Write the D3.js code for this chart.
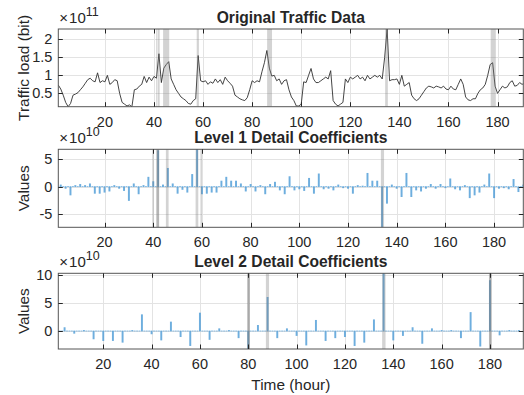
<!DOCTYPE html>
<html><head><meta charset="utf-8">
<script src="https://cdn.jsdelivr.net/npm/d3@7"></script>
<style>body{margin:0;background:#fff}svg{display:block}text{font-family:"Liberation Sans",Arial,sans-serif;fill:#262626}</style>
</head><body><svg id="c" width="524" height="395"></svg>
<script>
// ---------- data ----------
const hours = d3.range(1, 193);
// traffic load, units of 1e11 bit
const traffic = [
0.73,0.62,0.45,0.25,0.13,0.22,0.45,0.48,0.52,0.6,
0.68,0.78,0.88,0.92,0.85,0.82,1.07,0.8,0.85,0.82,
1.0,0.75,0.8,0.88,0.85,0.5,0.25,0.2,0.15,0.18,
0.13,0.6,0.62,0.7,0.75,0.97,0.8,0.95,0.85,0.97,
0.92,1.6,0.8,1.2,1.3,1.38,0.9,0.75,0.6,0.5,
0.4,0.35,0.3,0.22,0.2,0.3,0.35,1.55,0.85,0.82,
0.85,0.75,0.82,0.78,0.9,0.8,0.88,0.75,0.95,0.85,
0.78,0.7,0.45,0.4,0.35,0.32,0.3,0.38,0.6,0.85,
0.8,0.85,0.82,1.1,1.35,1.69,1.2,0.98,1.0,0.85,
0.9,0.75,0.85,0.88,0.6,0.4,0.3,0.15,0.15,0.2,
0.82,0.8,1.0,1.19,0.9,0.8,0.8,0.85,0.9,0.95,
0.9,1.13,0.3,0.2,0.15,0.2,0.25,0.9,0.8,0.95,
0.9,0.95,1.0,0.9,0.95,0.85,1.0,0.9,0.95,1.0,
0.95,1.0,0.9,1.5,2.286,0.85,0.88,0.88,0.9,0.75,
1.0,0.7,0.75,0.8,0.45,0.35,0.3,0.35,0.45,0.55,
0.65,0.7,0.68,0.65,0.7,0.68,0.65,0.7,0.62,0.6,
0.7,0.62,0.6,0.75,0.9,0.75,0.4,0.32,0.3,0.35,
0.35,0.5,0.6,0.65,0.75,1.0,1.3,1.35,0.7,0.5,
0.6,0.7,0.65,0.68,0.8,0.85,0.7,0.72,0.8,0.75,
0.78,0.8];
// level-1 detail coefficients (1e10), at hours 2,4,...,192
const level1 = [
0.3,-0.3,-1.5,0.2,0.4,0.2,0.5,-1.2,-1.2,-1.0,
-0.8,0.2,-0.3,-0.7,-2.5,0.5,-1.3,0.2,1.7,0.9,
6.5,0.3,3.3,0.5,-1.2,-0.5,-1.0,2.2,6.75,-1.3,
-1.2,-1.0,-1.0,1.0,1.7,1.0,1.0,0.5,-0.8,0.4,
-0.8,0.2,-1.3,0.4,0.8,-0.6,-1.3,1.8,-0.6,-0.4,
-0.7,1.5,-1.2,2.3,-0.4,-0.3,-0.6,0.3,-0.2,-0.3,
-1.2,0.2,0.1,2.4,1.0,1.0,-7.35,-3.0,0.3,-0.3,
-1.8,2.4,-1.8,-0.6,-0.8,-0.3,0.4,-0.3,0.4,-0.2,
1.4,-0.4,-0.6,0.2,-2.0,-1.5,-1.0,0.3,2.3,-2.0,
-0.3,-0.2,-0.4,1.3,-0.9,0.3];
// level-2 detail coefficients (1e10), at hours 4,8,...,192
const level2 = [
0.6,-0.4,0.1,-1.4,-1.7,-1.7,-2.0,0.1,2.9,-0.5,
-1.6,1.6,-1.0,-2.6,3.2,-1.5,0.4,0.1,-1.2,-3.21,
1.0,6.0,-1.2,0.4,-0.8,-2.5,1.9,-1.7,-1.2,-1.0,
-2.6,-2.0,2.0,10.3,-1.6,-0.8,0.6,-2.2,0.4,0.1,
0.1,-1.2,3.3,-2.7,9.0,-0.7,0.1,0.1];
const xTicks = [20,40,60,80,100,120,140,160,180];
const yTicks1 = [0.5,1,1.5,2];
const yTicks2 = [-5,0,5];
const yTicks3 = [0,5,10];
// highlighted (anomaly) hour ranges per panel
const bands1 = [[40.9,41.4],[41.6,42.3],[43.7,46.2],[57.4,58.3],[86.1,88.1],[134.2,135.3],[177.2,179.3]];
const bands2 = [[39.6,40.2],[41.3,42.4],[41.3,42.4],[45.2,46.3],[57.4,58.5],[59.4,60.0],[133.5,134.8]];
const bands3 = [[79.6,80.7],[79.6,80.7],[87.3,88.6],[135.4,136.8],[179.6,180.7],[179.6,180.7]];
const xDomains = [[1,190.5],[1,192],[1.4,193.8]];

// ---------- drawing ----------
const svg = d3.select("#c");
const L = 58.3, R = 523.3;
const panels = [
  {top:29, bot:106.7, title:"Original Traffic Data", ylabel:"Traffic load (bit)", exp:"11", yt:yTicks1, bands:bands1, xd:xDomains[0], fmt:d=>String(d)},
  {top:149.3, bot:227.3, title:"Level 1 Detail Coefficients", ylabel:"Values", exp:"10", yt:yTicks2, bands:bands2, xd:xDomains[1], fmt:d=>d<0?"-"+Math.abs(d):String(d)},
  {top:273.3, bot:349, title:"Level 2 Detail Coefficients", ylabel:"Values", exp:"10", yt:yTicks3, bands:bands3, xd:xDomains[2], fmt:d=>String(d)}
];
// full-length coefficient series (zeros between decimated positions)
const full1 = hours.map(h => h % 2 === 0 ? level1[h/2 - 1] : 0);
const full2 = hours.map(h => h % 4 === 0 ? level2[h/4 - 1] : 0);
panels[0].data = traffic; panels[1].data = full1; panels[2].data = full2;

const axisCol = "#262626";
panels.forEach((p, i) => {
  const x = d3.scaleLinear().domain(p.xd).range([L, R]);
  const y = d3.scaleLinear().domain(d3.extent(p.data)).range([p.bot, p.top]);
  const g = svg.append("g");
  const clipId = "clip" + i;
  svg.append("clipPath").attr("id", clipId).append("rect")
    .attr("x", L).attr("y", p.top).attr("width", R - L).attr("height", p.bot - p.top);
  // grid
  g.selectAll(".gx").data(xTicks).join("line")
    .attr("x1", d => Math.round(x(d)) + 0.5).attr("x2", d => Math.round(x(d)) + 0.5)
    .attr("y1", p.top).attr("y2", p.bot).attr("stroke", "#e3e3e3");
  g.selectAll(".gy").data(p.yt).join("line")
    .attr("y1", d => Math.round(y(d)) + 0.5).attr("y2", d => Math.round(y(d)) + 0.5)
    .attr("x1", L).attr("x2", R).attr("stroke", "#e3e3e3");
  const dg = g.append("g").attr("clip-path", `url(#${clipId})`);
  if (i === 0) {
    const line = d3.line().x((d, k) => x(hours[k])).y(d => y(d));
    dg.append("path").datum(p.data).attr("d", line)
      .attr("fill", "none").attr("stroke", "#303030").attr("stroke-width", 0.9);
  } else {
    const bw = (x(2) - x(1)) * 0.8;
    dg.selectAll("rect.bar").data(p.data).join("rect")
      .attr("x", (d, k) => x(hours[k]) - bw / 2)
      .attr("width", bw)
      .attr("y", d => Math.min(y(d), y(0)) - 0.4)
      .attr("height", d => Math.abs(y(d) - y(0)) + 0.8)
      .attr("fill", "#4a9ad6").attr("opacity", 0.8);
  }
  // highlight bands
  dg.selectAll("rect.band").data(p.bands).join("rect")
    .attr("x", d => x(d[0])).attr("width", d => x(d[1]) - x(d[0]))
    .attr("y", p.top).attr("height", p.bot - p.top)
    .attr("fill", "#7a7a7a").attr("opacity", 0.33);
  // box
  g.append("rect").attr("x", L).attr("y", p.top).attr("width", R - L).attr("height", p.bot - p.top)
    .attr("fill", "none").attr("stroke", "#555").attr("stroke-width", 1);
  // ticks (inward, all four sides)
  const tl = 4.5;
  xTicks.forEach(t => {
    const xx = Math.round(x(t)) + 0.5;
    g.append("line").attr("x1", xx).attr("x2", xx).attr("y1", p.bot).attr("y2", p.bot - tl).attr("stroke", axisCol);
    g.append("line").attr("x1", xx).attr("x2", xx).attr("y1", p.top).attr("y2", p.top + tl).attr("stroke", axisCol);
    g.append("text").attr("x", x(t)).attr("y", p.bot + 20).attr("text-anchor", "middle")
      .attr("font-size", 14.5).text(t);
  });
  p.yt.forEach(t => {
    const yy = Math.round(y(t)) + 0.5;
    g.append("line").attr("x1", L).attr("x2", L + tl).attr("y1", yy).attr("y2", yy).attr("stroke", axisCol);
    g.append("line").attr("x1", R).attr("x2", R - tl).attr("y1", yy).attr("y2", yy).attr("stroke", axisCol);
    g.append("text").attr("x", L - 6).attr("y", y(t) + 5).attr("text-anchor", "end")
      .attr("font-size", 14.5).text(p.fmt(t));
  });
  // exponent
  const ex = g.append("text").attr("x", L + 1).attr("y", p.top - 6).attr("font-size", 15).attr("fill", "#404040");
  ex.append("tspan").text("\u00d7");
  ex.append("tspan").attr("dx", 1).text("10");
  ex.append("tspan").attr("font-size", 12.5).attr("dy", -7).text(p.exp);
  // title
  g.append("text").attr("x", (L + R) / 2).attr("y", p.top - 6).attr("text-anchor", "middle")
    .attr("font-size", 15.6).attr("font-weight", "bold").text(p.title);
  // y label
  g.append("text").attr("transform", `translate(29,${(p.top + p.bot) / 2}) rotate(-90)`)
    .attr("text-anchor", "middle").attr("font-size", 15.4).text(p.ylabel);
});
svg.append("text").attr("x", (L + R) / 2).attr("y", 390).attr("text-anchor", "middle")
  .attr("font-size", 15.4).text("Time (hour)");
</script></body></html>
